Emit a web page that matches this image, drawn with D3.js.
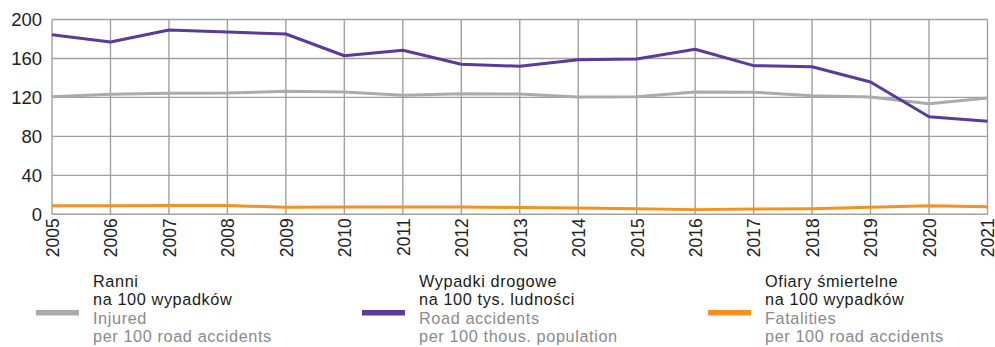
<!DOCTYPE html>
<html>
<head>
<meta charset="utf-8">
<script src="https://cdn.jsdelivr.net/npm/d3@7"></script>
<style>
  html, body { margin: 0; padding: 0; background: #fff; }
  svg { display: block; font-family: "Liberation Sans", Arial, sans-serif; }
</style>
</head>
<body>
<svg id="chart" width="995" height="347"></svg>
<script>
// Years on the x axis
const years = [2005, 2006, 2007, 2008, 2009, 2010, 2011, 2012, 2013, 2014, 2015, 2016, 2017, 2018, 2019, 2020, 2021];

// Injured per 100 road accidents
const injured = [120.7, 123.2, 124.2, 124.5, 126.4, 125.6, 122.2, 123.8, 123.4, 120.4, 120.7, 125.6, 125.3, 121.8, 120.4, 113.6, 119.4];

// Road accidents per 100 thousand population
const accidents = [184.4, 176.9, 189.2, 187.2, 185.1, 162.8, 168.4, 154.0, 152.0, 158.7, 159.4, 169.4, 152.6, 151.5, 135.8, 100.2, 95.5];

// Fatalities per 100 road accidents
const fatalities = [8.8, 8.8, 9.0, 9.0, 7.2, 7.5, 7.5, 7.6, 7.0, 6.5, 5.8, 4.8, 5.5, 5.8, 7.2, 8.8, 7.8];

// Y axis ticks
const yTicks = [0, 40, 80, 120, 160, 200];

// Legend entries
const legendItems = [
  { pl: ["Ranni", "na 100 wypadków"], en: ["Injured", "per 100 road accidents"], color: "#a9abae", data: injured },
  { pl: ["Wypadki drogowe", "na 100 tys. ludności"], en: ["Road accidents", "per 100 thous. population"], color: "#5a3b9c", data: accidents },
  { pl: ["Ofiary śmiertelne", "na 100 wypadków"], en: ["Fatalities", "per 100 road accidents"], color: "#f7901e", data: fatalities }
];

const svg = d3.select("#chart");
const margin = { left: 52, top: 19.5, right: 995 - 987.5, bottom: 347 - 214.3 };
const W = 995 - margin.left - margin.right;
const H = 347 - margin.top - margin.bottom;

const x = d3.scaleLinear().domain([years[0], years[years.length - 1]]).range([0, W]);
const y = d3.scaleLinear().domain([0, 200]).range([H, 0]);

const g = svg.append("g").attr("transform", `translate(${margin.left},${margin.top})`);

// Grid
const gridColor = "#a0a0a0";
g.append("g").selectAll("line.v").data(years).join("line")
  .attr("x1", d => x(d)).attr("x2", d => x(d))
  .attr("y1", 0).attr("y2", H)
  .attr("stroke", gridColor).attr("stroke-width", 1.4);
g.append("g").selectAll("line.h").data(yTicks).join("line")
  .attr("x1", 0).attr("x2", W)
  .attr("y1", d => y(d)).attr("y2", d => y(d))
  .attr("stroke", gridColor).attr("stroke-width", 1.4);

// Y axis labels
const yAxis = d3.axisLeft(y).tickValues(yTicks).tickSize(0).tickPadding(10);
g.append("g").call(yAxis)
  .call(a => a.select(".domain").remove())
  .selectAll("text")
  .attr("font-size", 18.5)
  .attr("font-family", "Liberation Sans, Arial, sans-serif")
  .attr("fill", "#222");

// X axis labels (rotated)
const xAxis = d3.axisBottom(x).tickValues(years).tickFormat(d3.format("d")).tickSize(0).tickPadding(0);
g.append("g").attr("transform", `translate(0,${H})`).call(xAxis)
  .call(a => a.select(".domain").remove())
  .selectAll("text")
  .attr("font-size", 17.5)
  .attr("font-family", "Liberation Sans, Arial, sans-serif")
  .attr("fill", "#222")
  .attr("text-anchor", "end")
  .attr("transform", "rotate(-90)")
  .attr("x", -4)
  .attr("y", 0)
  .attr("dy", "0.36em");

// Series lines
const line = d3.line().x((d, i) => x(years[i])).y(d => y(d));
legendItems.forEach(item => {
  g.append("path").datum(item.data)
    .attr("d", line)
    .attr("fill", "none")
    .attr("stroke", item.color)
    .attr("stroke-width", 3)
    .attr("stroke-linejoin", "round");
});

// Legend: swatch plus a four-line label (Polish in dark, English in grey)
const legendX = [36, 362, 708];
const legend = svg.append("g");
legendItems.forEach((item, i) => {
  const lg = legend.append("g").attr("transform", `translate(${legendX[i]},0)`);
  lg.append("rect").attr("x", 0).attr("y", 310).attr("width", 43).attr("height", 5.5).attr("fill", item.color);
  const lines = [...item.pl.map(t => ({ t, c: "#1a1a1a" })), ...item.en.map(t => ({ t, c: "#8a8a8a" }))];
  lg.selectAll("text").data(lines).join("text")
    .attr("x", 57)
    .attr("y", (d, j) => 287 + j * 18.3)
    .attr("font-size", 16.3)
    .attr("letter-spacing", 0.6)
    .attr("fill", d => d.c)
    .text(d => d.t);
});
</script>
</body>
</html>
